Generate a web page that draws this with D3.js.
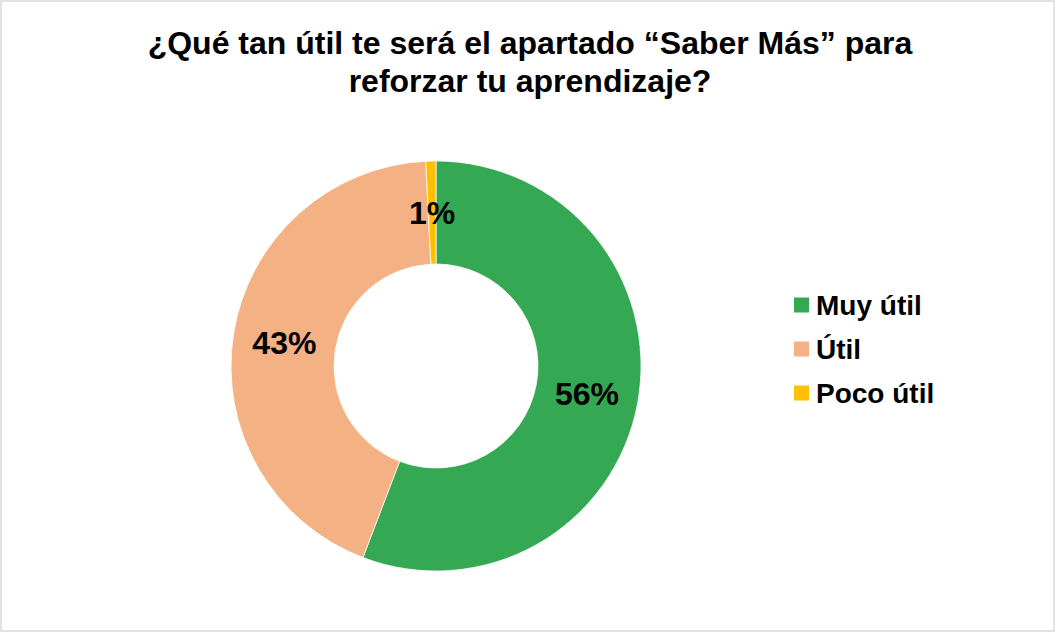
<!DOCTYPE html>
<html>
<head>
<meta charset="utf-8">
<script src="https://cdn.jsdelivr.net/npm/d3@7"></script>
<style>
  html, body { margin: 0; padding: 0; background: #fff; }
  svg text { font-family: "Liberation Sans", Arial, sans-serif; font-weight: bold; }
</style>
</head>
<body>
<div id="chart"></div>
<script>
const categories = ['Muy útil', 'Útil', 'Poco útil'];
const values = [55.8, 43.4, 0.8];
const labels = ['56%', '43%', '1%'];
const colors = ['#34a853', '#f4b183', '#ffc000'];
const titleLines = ['¿Qué tan útil te será el apartado “Saber Más” para', 'reforzar tu aprendizaje?'];

const W = 1056, H = 633;
const CX = 436, CY = 366, R_OUT = 205, R_IN = 102;

const svg = d3.select('#chart').append('svg')
    .attr('width', W)
    .attr('height', H);

// frame
svg.append('rect')
    .attr('x', 1).attr('y', 1)
    .attr('width', W - 3).attr('height', H - 3)
    .attr('fill', '#fff')
    .attr('stroke', '#d9d9d9')
    .attr('stroke-width', 1.5);

// title
svg.append('g').selectAll('text')
    .data(titleLines)
  .enter().append('text')
    .attr('x', 530)
    .attr('y', (d, i) => 54 + i * 38)
    .attr('text-anchor', 'middle')
    .attr('font-size', 32)
    .attr('fill', '#000')
    .text(d => d);

const data = categories.map((c, i) => ({ name: c, value: values[i], label: labels[i], color: colors[i] }));

const pie = d3.pie()
    .value(d => d.value)
    .sort(null);

const arc = d3.arc()
    .innerRadius(R_IN)
    .outerRadius(R_OUT);

const labelArc = d3.arc()
    .innerRadius((R_IN + R_OUT) / 2)
    .outerRadius((R_IN + R_OUT) / 2);

const g = svg.append('g')
    .attr('transform', `translate(${CX}, ${CY})`);

const arcs = pie(data);

g.selectAll('path')
    .data(arcs)
  .enter().append('path')
    .attr('d', arc)
    .attr('fill', d => d.data.color)
    .attr('stroke', '#fff')
    .attr('stroke-width', 0.75);

g.selectAll('text')
    .data(arcs)
  .enter().append('text')
    .attr('transform', d => `translate(${labelArc.centroid(d)})`)
    .attr('text-anchor', 'middle')
    .attr('dy', '0.36em')
    .attr('font-size', 32)
    .attr('fill', '#000')
    .text(d => d.data.label);

// legend
const legend = svg.append('g')
    .attr('transform', 'translate(794, 305)');

const item = legend.selectAll('g')
    .data(data)
  .enter().append('g')
    .attr('transform', (d, i) => `translate(0, ${i * 44})`);

item.append('rect')
    .attr('x', 0).attr('y', -7.5)
    .attr('width', 15).attr('height', 15)
    .attr('fill', d => d.color);

item.append('text')
    .attr('x', 22)
    .attr('dy', '0.36em')
    .attr('font-size', 28)
    .attr('fill', '#000')
    .text(d => d.name);
</script>
</body>
</html>
